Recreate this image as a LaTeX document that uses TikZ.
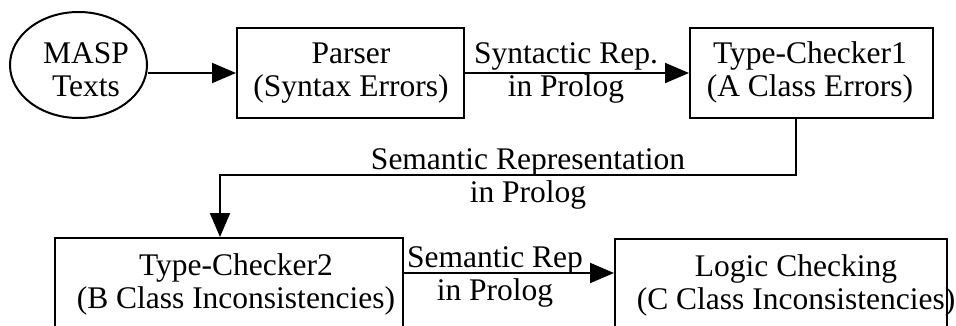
\documentclass[tikz,border=0pt]{standalone}
\usepackage{fontspec}
\setmainfont{Liberation Serif}
\usetikzlibrary{arrows.meta,shapes.geometric}
\begin{document}
\begin{tikzpicture}[x=1pt,y=-1pt,
  every node/.style={font=\fontsize{31.5}{33}\selectfont, inner sep=0pt},
  box/.style={draw, line width=2pt, rectangle, minimum height=90pt},
  oval/.style={draw, line width=2pt, ellipse},
  txt/.style={align=center},
  arr/.style={line width=2pt, -{Triangle[length=24pt,width=20pt]}}]
\useasboundingbox (0,0) rectangle (956,326);
% shapes
\node[oval, minimum width=137pt, minimum height=106pt] (masp) at (78.5,65) {};
\node[box, minimum width=227pt] (parser) at (350.5,73) {};
\node[box, minimum width=243pt] (tc1) at (811.5,73) {};
\node[box, minimum width=348pt] (tc2) at (229,283) {};
\node[box, minimum width=332pt] (logic) at (781,284) {};
% texts
\node[txt] (masptxt) at (86,70) {MASP\\Texts};
\node[txt] (parsertxt) at (351,73) {Parser\\(Syntax Errors)};
\node[txt] (tc1txt) at (810,72) {Type-Checker1\\(A Class Errors)};
\node[txt] (tc2txt) at (236,284) {Type-Checker2\\(B Class Inconsistencies)};
\node[txt] (logictxt) at (796,285) {Logic Checking\\(C Class Inconsistencies)};
% connectors
\draw[arr] (masp.east |- parser.west) -- (parser.west);
\draw[arr] (parser.east) -- (tc1.west);
\coordinate (bend1) at (796,175);
\coordinate (bend2) at (220,175);
\draw[arr] (tc1.south -| bend1) -- (bend1) -- (bend2) -- (tc2.north -| bend2);
\draw[arr] ([yshift=10pt]tc2.east) -- ([yshift=10pt]tc2.east -| logic.west);
% edge labels
\node[txt] (l1) at (566,73) {Syntactic Rep.\\in Prolog};
\node[txt] (l2) at (528,179) {Semantic Representation\\in Prolog};
\node[txt] (l3) at (495,277) {Semantic Rep\\in Prolog};
\end{tikzpicture}
\end{document}
